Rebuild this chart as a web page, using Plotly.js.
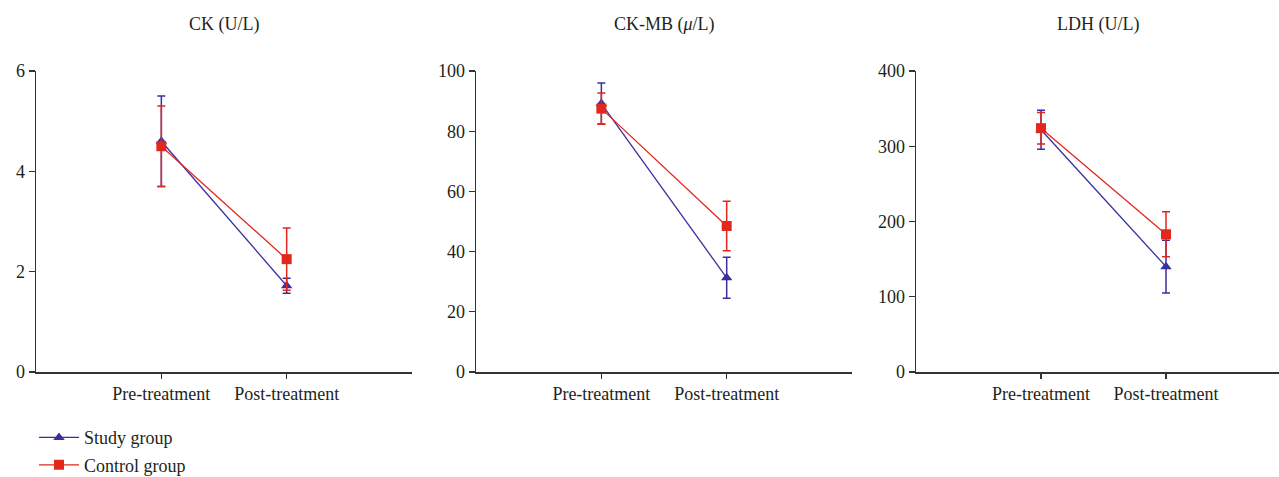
<!DOCTYPE html>
<html>
<head>
<meta charset="utf-8">
<script src="https://cdn.plot.ly/plotly-3.0.1.min.js"></script>
<style>html,body{margin:0;padding:0;background:#fff;}#chart{width:1279px;height:477px;}</style>
</head>
<body>
<div id="chart"></div>
<script>
const categories = ["Pre-treatment", "Post-treatment"];
const panelTitles = ["CK (U/L)", "CK-MB (<i>μ</i>/L)", "LDH (U/L)"];
const seriesNames = ["Study group", "Control group"];

// CK (U/L)
const ckStudy = [4.6, 1.72];
const ckStudyErr = [0.9, 0.15];
const ckControl = [4.5, 2.25];
const ckControlErr = [0.8, 0.62];

// CK-MB (μ/L)
const ckmbStudy = [89.2, 31.3];
const ckmbStudyErr = [6.8, 6.8];
const ckmbControl = [87.5, 48.5];
const ckmbControlErr = [5.2, 8.2];

// LDH (U/L)
const ldhStudy = [322, 140];
const ldhStudyErr = [26, 35];
const ldhControl = [324, 183];
const ldhControlErr = [21, 30];

const yTicks = [[0, 2, 4, 6], [0, 20, 40, 60, 80, 100], [0, 100, 200, 300, 400]];
const yRanges = [[0, 6], [0, 100], [0, 400]];

const blue = "#3a2f9c";
const red = "#e2271d";
const axisColor = "#333333";
const textColor = "#231f20";
const fontFam = "Liberation Serif, Times New Roman, serif";
const fs = 18;

const panels = [
  {s: ckStudy, se: ckStudyErr, c: ckControl, ce: ckControlErr},
  {s: ckmbStudy, se: ckmbStudyErr, c: ckmbControl, ce: ckmbControlErr},
  {s: ldhStudy, se: ldhStudyErr, c: ldhControl, ce: ldhControlErr}
];

const traces = [];
panels.forEach((p, i) => {
  const xa = i === 0 ? "x" : "x" + (i + 1);
  const ya = i === 0 ? "y" : "y" + (i + 1);
  traces.push({
    x: categories, y: p.s, xaxis: xa, yaxis: ya, type: "scatter", mode: "lines+markers",
    name: seriesNames[0], legendgroup: "s", showlegend: i === 0,
    line: {color: blue, width: 1.3},
    marker: {symbol: "triangle-up", size: 10, color: blue},
    error_y: {type: "data", array: p.se, visible: true, color: blue, thickness: 1.5, width: 4}
  });
  traces.push({
    x: categories, y: p.c, xaxis: xa, yaxis: ya, type: "scatter", mode: "lines+markers",
    name: seriesNames[1], legendgroup: "c", showlegend: i === 0,
    line: {color: red, width: 1.3},
    marker: {symbol: "square", size: 10, color: red},
    error_y: {type: "data", array: p.ce, visible: true, color: red, thickness: 1.5, width: 4}
  });
});

const xDomains = [[0, 0.3025], [0.354, 0.6565], [0.708, 1.0]];
const xRanges = [[-1, 2], [-1, 2], [-1, 1.904]];

const layout = {
  width: 1279, height: 477,
  margin: {l: 36, r: 0, t: 71, b: 105, autoexpand: false},
  paper_bgcolor: "#fff", plot_bgcolor: "#fff",
  font: {family: fontFam, size: fs, color: textColor},
  showlegend: true,
  legend: {
    x: -0.0016, xanchor: "left", y: -0.157, yanchor: "top",
    traceorder: "grouped", tracegroupgap: 1, itemwidth: 40,
    font: {family: fontFam, size: fs, color: textColor},
    bgcolor: "rgba(0,0,0,0)"
  },
  annotations: panelTitles.map((t, i) => ({
    text: t, xref: "paper", yref: "paper",
    x: (xDomains[i][0] + xDomains[i][1]) / 2, y: 1.155,
    xanchor: "center", yanchor: "middle", showarrow: false,
    font: {family: fontFam, size: fs, color: textColor}
  }))
};

for (let i = 0; i < 3; i++) {
  const suf = i === 0 ? "" : String(i + 1);
  layout["xaxis" + suf] = {
    domain: xDomains[i], anchor: "y" + suf, type: "category",
    range: xRanges[i], showgrid: false, zeroline: false,
    showline: true, linecolor: axisColor, linewidth: 1.5,
    ticks: "outside", ticklen: 5, tickwidth: 1.2, tickcolor: axisColor,
    tickfont: {family: fontFam, size: fs, color: textColor},
    fixedrange: true
  };
  layout["yaxis" + suf] = {
    domain: [0, 1], anchor: "x" + suf, range: yRanges[i],
    tickvals: yTicks[i], showgrid: false, zeroline: false,
    showline: true, linecolor: axisColor, linewidth: 1.5,
    ticks: "outside", ticklen: 6, tickwidth: 1.2, tickcolor: axisColor,
    tickfont: {family: fontFam, size: fs, color: textColor},
    fixedrange: true
  };
}

Plotly.newPlot("chart", traces, layout, {displayModeBar: false, staticPlot: true});
</script>
</body>
</html>
